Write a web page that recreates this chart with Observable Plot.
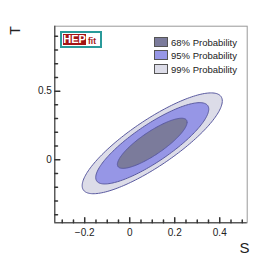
<!DOCTYPE html>
<html>
<head>
<meta charset="utf-8">
<script src="https://cdn.jsdelivr.net/npm/d3@7"></script>
<script src="https://cdn.jsdelivr.net/npm/@observablehq/plot@0.6"></script>
<style>
  html, body { margin: 0; padding: 0; background: #fff; }
  #wrap { position: relative; width: 274px; height: 262px; font-family: "Liberation Sans", Arial, sans-serif; }
  #logo { position: absolute; left: 60px; top: 31px; width: 38px; height: 13px; border: 2px solid #2a9a9a; background: #fff; }
  #logo .hep { position: absolute; left: 1px; top: 1px; width: 23px; height: 11px; background: #a31515; color: #fff; font-weight: bold; font-size: 11px; line-height: 11px; text-align: center; }
  #logo .fit { position: absolute; left: 26px; top: 4px; color: #a31515; font-weight: bold; font-size: 8.5px; line-height: 9px; }
  .leg { position: absolute; left: 154px; font-size: 9.5px; color: #222; line-height: 10px; white-space: nowrap; }
  .leg .sw { display: inline-block; width: 12px; height: 8px; border: 1px solid #555; vertical-align: -1px; margin-right: 3px; }
</style>
</head>
<body>
<div id="wrap"></div>
<script>
// Fit result
const meanS = 0.10;
const meanT = 0.12;
const sigmaS = 0.1026;
const sigmaT = 0.121;
const rhoST = 0.84;
const probabilities = [0.99, 0.95, 0.68];
const levelLabels = ["99% Probability", "95% Probability", "68% Probability"];
const legendOrder = ["68% Probability", "95% Probability", "99% Probability"];
const xMajorTicks = [-0.2, 0, 0.2, 0.4];
const xMinorTicks = [-0.3, -0.25, -0.15, -0.1, -0.05, 0.05, 0.1, 0.15, 0.25, 0.3, 0.35, 0.45, 0.5];
const yMajorTicks = [0, 0.5];
const yMinorTicks = [-0.4, -0.3, -0.2, -0.1, 0.1, 0.2, 0.3, 0.4, 0.6, 0.7, 0.8, 0.9];
const xDomain = [-0.333, 0.522];
const yDomain = [-0.459, 0.973];

const fills = {"68% Probability": "#7b7b9b", "95% Probability": "#9696e6", "99% Probability": "#dcdce8"};

// contour points of the 2D Gaussian for each probability
const angles = d3.range(0, 2 * Math.PI, Math.PI / 90);
const contours = probabilities.map((p, i) => {
  const r = Math.sqrt(-2 * Math.log(1 - p));
  return angles.map(t => ({
    level: levelLabels[i],
    S: meanS + sigmaS * r * Math.cos(t),
    T: meanT + sigmaT * r * (rhoST * Math.cos(t) + Math.sqrt(1 - rhoST * rhoST) * Math.sin(t))
  }));
});

const tickShape = {draw(ctx, l) { ctx.moveTo(0, 0); ctx.lineTo(0, -l); }};
const fmt = d => d === 0 ? "0" : d3.format("")(d).replace("-", "\u2212");

const chart = Plot.plot({
  width: 274,
  height: 262,
  marginLeft: 54.3,
  marginRight: 27.3,
  marginTop: 25.7,
  marginBottom: 39.7,
  style: {fontFamily: "'Liberation Sans', Arial, sans-serif", background: "#fff"},
  x: {domain: xDomain},
  y: {domain: yDomain},
  marks: [
    ...contours.map((c, i) => Plot.line(c, {x: "S", y: "T", curve: "linear-closed", fill: fills[levelLabels[i]], stroke: "#5a5aa0", strokeWidth: 1})),
    Plot.frame({stroke: "#999", strokeWidth: 1}),
    Plot.ruleX([xDomain[0]], {stroke: "#333", strokeWidth: 1}),
    Plot.ruleY([yDomain[0]], {stroke: "#333", strokeWidth: 1}),
    Plot.vector(xMajorTicks, {x: d => d, frameAnchor: "bottom", length: 5, rotate: 0, anchor: "start", shape: tickShape, stroke: "#333"}),
    Plot.vector(xMinorTicks, {x: d => d, frameAnchor: "bottom", length: 2.7, rotate: 0, anchor: "start", shape: tickShape, stroke: "#333"}),
    Plot.vector(yMajorTicks, {y: d => d, frameAnchor: "left", length: 5, rotate: 90, anchor: "start", shape: tickShape, stroke: "#333"}),
    Plot.vector(yMinorTicks, {y: d => d, frameAnchor: "left", length: 2.7, rotate: 90, anchor: "start", shape: tickShape, stroke: "#333"}),
    Plot.axisX(xMajorTicks, {tickSize: 0, tickPadding: 6, tickFormat: fmt, fontSize: 10, fill: "#222", label: null}),
    Plot.axisY(yMajorTicks, {tickSize: 0, tickPadding: 3, tickFormat: fmt, fontSize: 10, fill: "#222", label: null}),
    Plot.text(["S"], {frameAnchor: "bottom-right", dx: -2.7, dy: 25.7, text: d => d, fontSize: 15, textAnchor: "middle", lineAnchor: "middle", fill: "#222"}),
    Plot.text(["T"], {frameAnchor: "top-left", dx: -39.3, dy: 4.3, text: d => d, fontSize: 14, rotate: -90, textAnchor: "middle", lineAnchor: "middle", fill: "#222"})
  ]
});

const wrap = document.getElementById("wrap");
wrap.appendChild(chart);

const logo = document.createElement("div");
logo.id = "logo";
logo.innerHTML = '<span class="hep">HEP</span><span class="fit">fit</span>';
wrap.appendChild(logo);

legendOrder.forEach((lab, i) => {
  const row = document.createElement("div");
  row.className = "leg";
  row.style.top = (36.5 + i * 13.8) + "px";
  const sw = document.createElement("span");
  sw.className = "sw";
  sw.style.background = fills[lab];
  row.appendChild(sw);
  row.appendChild(document.createTextNode(lab));
  wrap.appendChild(row);
});
</script>
</body>
</html>
